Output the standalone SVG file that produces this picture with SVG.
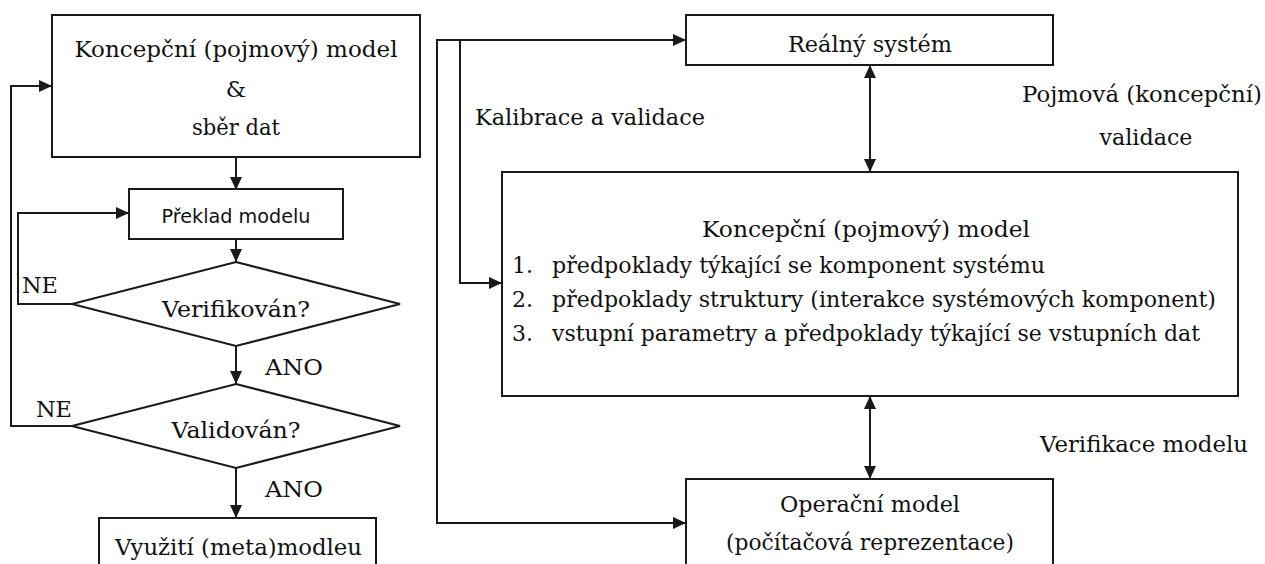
<svg xmlns="http://www.w3.org/2000/svg" width="1265" height="564" viewBox="0 0 1265 564">
<defs>
<marker id="ah" markerUnits="userSpaceOnUse" markerWidth="14" markerHeight="12" refX="13" refY="6" orient="auto-start-reverse">
<path d="M0,0 L13,6 L0,12 z" fill="#1a1a1a"/>
</marker>
<style>
.box{fill:#fff;stroke:#1a1a1a;stroke-width:2}
.ln{fill:none;stroke:#1a1a1a;stroke-width:2}
text{fill:#111}
.t{font-family:"DejaVu Serif","Liberation Serif",serif;font-size:23px}
.l{font-size:22.5px}
.c{text-anchor:middle}
.e{text-anchor:end}
.s{font-family:"DejaVu Sans",sans-serif;font-size:19px}
</style>
</defs>
<rect width="1265" height="564" fill="#fff"/>
<g id="connectors">
<path class="ln" d="M72,426 H11 V86 H52" marker-end="url(#ah)"/>
<path class="ln" d="M72,304 H18 V213 H129" marker-end="url(#ah)"/>
<path class="ln" d="M236,157 V190" marker-end="url(#ah)"/>
<path class="ln" d="M236,239 V262" marker-end="url(#ah)"/>
<path class="ln" d="M236,346 V384" marker-end="url(#ah)"/>
<path class="ln" d="M236,468 V518" marker-end="url(#ah)"/>
<path class="ln" d="M686,40 H437 V523 H686" marker-start="url(#ah)" marker-end="url(#ah)"/>
<path class="ln" d="M460,40 V283 H502" marker-end="url(#ah)"/>
<path class="ln" d="M870,65 V172" marker-start="url(#ah)" marker-end="url(#ah)"/>
<path class="ln" d="M870,396 V479" marker-start="url(#ah)" marker-end="url(#ah)"/>
</g>
<g id="n-koncepcni-left">
<rect class="box" x="52" y="15" width="368" height="142"/>
<text class="t c" x="236" y="57" textLength="323" lengthAdjust="spacingAndGlyphs">Koncepční (pojmový) model</text>
<text class="t c" x="236" y="97">&amp;</text>
<text class="t c" x="236" y="135" textLength="88" lengthAdjust="spacingAndGlyphs">sběr dat</text>
</g>
<g id="n-preklad">
<rect class="box" x="129" y="189" width="214" height="50"/>
<text class="s c" x="236" y="223" textLength="149" lengthAdjust="spacingAndGlyphs">Překlad modelu</text>
</g>
<g id="n-verifikovan">
<polygon class="box" points="236,262 400,304 236,346 72,304"/>
<text class="t c" x="236" y="317" textLength="148" lengthAdjust="spacingAndGlyphs">Verifikován?</text>
</g>
<g id="n-validovan">
<polygon class="box" points="236,384 400,426 236,468 72,426"/>
<text class="t c" x="236" y="438" textLength="129" lengthAdjust="spacingAndGlyphs">Validován?</text>
</g>
<g id="n-vyuziti">
<rect class="box" x="99" y="518" width="277" height="60"/>
<text class="t" x="115" y="555" textLength="247" lengthAdjust="spacingAndGlyphs">Využití (meta)modleu</text>
</g>
<g id="labels-left">
<text class="t" x="22" y="293" textLength="36" lengthAdjust="spacingAndGlyphs">NE</text>
<text class="t" x="36" y="417" textLength="36" lengthAdjust="spacingAndGlyphs">NE</text>
<text class="t" x="265" y="375" textLength="58" lengthAdjust="spacingAndGlyphs">ANO</text>
<text class="t" x="265" y="497" textLength="58" lengthAdjust="spacingAndGlyphs">ANO</text>
</g>
<g id="n-realny">
<rect class="box" x="686" y="15" width="367" height="50"/>
<text class="t c" x="870" y="52" textLength="164" lengthAdjust="spacingAndGlyphs">Reálný systém</text>
</g>
<g id="n-koncepcni-right">
<rect class="box" x="502" y="172" width="736" height="224"/>
<text class="t c" x="866" y="237" textLength="328" lengthAdjust="spacingAndGlyphs">Koncepční (pojmový) model</text>
<text class="t l" x="512" y="273" textLength="21" lengthAdjust="spacingAndGlyphs">1.</text>
<text class="t l" x="552" y="273" textLength="493" lengthAdjust="spacingAndGlyphs">předpoklady týkající se komponent systému</text>
<text class="t l" x="512" y="307" textLength="21" lengthAdjust="spacingAndGlyphs">2.</text>
<text class="t l" x="552" y="307" textLength="664" lengthAdjust="spacingAndGlyphs">předpoklady struktury (interakce systémových komponent)</text>
<text class="t l" x="512" y="341" textLength="21" lengthAdjust="spacingAndGlyphs">3.</text>
<text class="t l" x="552" y="341" textLength="648" lengthAdjust="spacingAndGlyphs">vstupní parametry a předpoklady týkající se vstupních dat</text>
</g>
<g id="n-operacni">
<rect class="box" x="686" y="479" width="367" height="100"/>
<text class="t c" x="870" y="512" textLength="180" lengthAdjust="spacingAndGlyphs">Operační model</text>
<text class="t c" x="870" y="550" textLength="288" lengthAdjust="spacingAndGlyphs">(počítačová reprezentace)</text>
</g>
<g id="labels-right">
<text class="t" x="475" y="125" textLength="230" lengthAdjust="spacingAndGlyphs">Kalibrace a validace</text>
<text class="t e" x="1262" y="102" textLength="240" lengthAdjust="spacingAndGlyphs">Pojmová (koncepční)</text>
<text class="t c" x="1146" y="145" textLength="93" lengthAdjust="spacingAndGlyphs">validace</text>
<text class="t" x="1040" y="452" textLength="208" lengthAdjust="spacingAndGlyphs">Verifikace modelu</text>
</g>
</svg>
